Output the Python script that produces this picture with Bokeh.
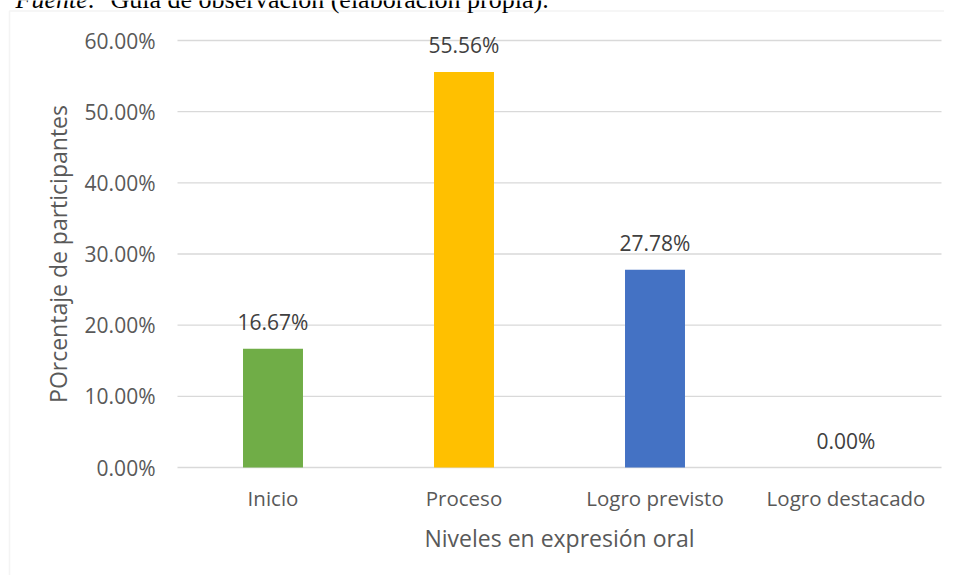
from bokeh.plotting import figure
from bokeh.models import (ColumnDataSource, Range1d, FixedTicker,
                          NumeralTickFormatter, LabelSet, Label, BoxAnnotation)
from bokeh.core.properties import value
from bokeh.embed import file_html
from bokeh.resources import INLINE

categories = ["Inicio", "Proceso", "Logro previsto", "Logro destacado"]
values = [0.1667, 0.5556, 0.2778, 0.0]
colors = ["#70AD47", "#FFC000", "#4472C4", "#A5A5A5"]
y_ticks = [0.0, 0.1, 0.2, 0.3, 0.4, 0.5, 0.6]
x_title = "Niveles en expresión oral"
y_title = "POrcentaje de participantes"
source_note_italic = "Fuente:"
source_note_rest = "Guía de observación (elaboración propia)."

FONT = "Open Sans"
GRAY = "#595959"

W, H = 944, 575
# layout of the plotting area in pixels (canvas coordinates)
PLOT_LEFT, PLOT_RIGHT, PLOT_TOP, PLOT_BOTTOM = 177, 941, 40, 467

n = len(categories)
x_pos = list(range(n))
px_per_cat = (PLOT_RIGHT - PLOT_LEFT) / n
first_center = PLOT_LEFT + px_per_cat / 2
y_max = y_ticks[-1]
px_per_unit = (PLOT_BOTTOM - PLOT_TOP) / y_max

src = ColumnDataSource(dict(
    x=x_pos,
    val=values,
    color=colors,
    label=[f"{v * 100:.2f}%" for v in values],
))

p = figure(
    title=None,
    x_range=Range1d(-first_center / px_per_cat, (W - first_center) / px_per_cat),
    y_range=Range1d(-(H - PLOT_BOTTOM) / px_per_unit, PLOT_BOTTOM / px_per_unit),
    width=W, height=H,
    output_backend="svg", toolbar_location=None,
    min_border=0,
)
p.outline_line_color = None
p.background_fill_color = "white"
p.border_fill_color = "white"
p.xgrid.visible = False
p.ygrid.visible = False

# chart border (runs off the window on the right and bottom)
p.add_layout(BoxAnnotation(left=9, right=3000, top=10.5, bottom=3000,
                           left_units="canvas", right_units="canvas",
                           top_units="canvas", bottom_units="canvas",
                           fill_color=None, fill_alpha=0,
                           line_color="#D9D9D9", line_width=1.5,
                           level="underlay"))

# horizontal gridlines at the y ticks, limited to the plotting area
x_lo, x_hi = -0.5, n - 0.5
p.segment(x0=[x_lo] * len(y_ticks), x1=[x_hi] * len(y_ticks),
          y0=y_ticks, y1=y_ticks, line_color="#D9D9D9", line_width=1.3)

p.vbar(x="x", top="val", width=0.314, color="color", source=src, line_color=None)

p.add_layout(LabelSet(x="x", y="val", text="label", source=src,
                      text_align="center", text_baseline="alphabetic", y_offset=19,
                      text_font=value(FONT), text_font_size=value("21px"),
                      text_color=value("#404040")))

# y axis (placed at the left edge of the plotting area)
yax = p.yaxis[0]
yax.fixed_location = x_lo
yax.bounds = (0, y_max)
yax.ticker = FixedTicker(ticks=y_ticks)
yax.formatter = NumeralTickFormatter(format="0.00%")
yax.axis_line_color = None
yax.major_tick_line_color = None
yax.minor_tick_line_color = None
yax.major_label_standoff = 16
yax.major_label_text_font = FONT
yax.major_label_text_font_size = "21px"
yax.major_label_text_color = GRAY
yax.axis_label = y_title
yax.axis_label_text_font = FONT
yax.axis_label_text_font_size = "23px"
yax.axis_label_text_font_style = "normal"
yax.axis_label_text_color = GRAY
yax.axis_label_standoff = 8

# x axis (placed at y = 0)
xax = p.xaxis[0]
xax.fixed_location = 0
xax.bounds = (x_lo, x_hi)
xax.ticker = FixedTicker(ticks=x_pos)
xax.major_label_overrides = {i: c for i, c in zip(x_pos, categories)}
xax.axis_line_color = None
xax.major_tick_line_color = None
xax.minor_tick_line_color = None
xax.major_label_standoff = 10
xax.major_label_text_font = FONT
xax.major_label_text_font_size = "20.5px"
xax.major_label_text_color = GRAY
xax.axis_label = x_title
xax.axis_label_text_font = FONT
xax.axis_label_text_font_size = "23px"
xax.axis_label_text_font_style = "normal"
xax.axis_label_text_color = GRAY
xax.axis_label_standoff = 7

# source note (cut by the top edge, as in the original)
p.add_layout(Label(x=15, y=-1, x_units="canvas", y_units="canvas",
                   text=source_note_italic,
                   text_font="Liberation Serif", text_font_size="26px",
                   text_font_style="italic", text_color="black",
                   text_baseline="alphabetic"))
p.add_layout(Label(x=110, y=-1, x_units="canvas", y_units="canvas",
                   text=source_note_rest,
                   text_font="Liberation Serif", text_font_size="26px",
                   text_color="black", text_baseline="alphabetic"))

open("out.html", "w").write(file_html(p, INLINE))
